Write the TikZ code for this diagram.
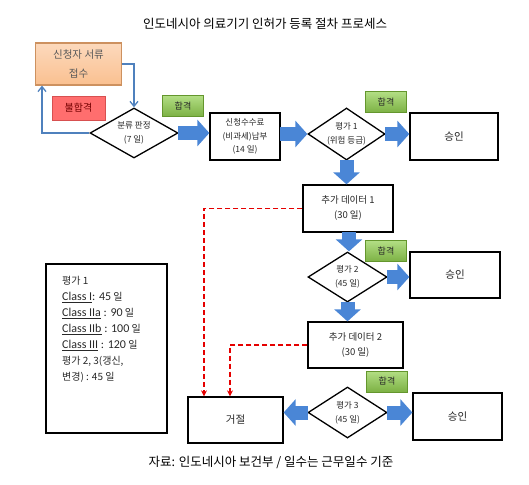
\documentclass[tikz,border=0pt]{standalone}
\usepackage{fontspec}
\setmainfont{Noto Sans CJK KR}
\newfontfamily\calib{Carlito}
\usetikzlibrary{shapes.geometric,arrows.meta}
\definecolor{bluearr}{RGB}{74,134,214}
\definecolor{loopblue}{RGB}{79,129,189}
\definecolor{peach}{RGB}{250,192,144}
\definecolor{peachline}{RGB}{205,145,95}
\definecolor{passgreen}{RGB}{146,208,80}
\definecolor{passline}{RGB}{100,150,45}
\definecolor{failred}{RGB}{255,110,110}
\definecolor{failline}{RGB}{215,80,80}
\definecolor{txt}{RGB}{40,40,40}
\tikzset{
  flowbox/.style={draw=black, line width=1.3pt, fill=white, align=center, inner sep=0pt, text=txt},
  decide/.style={diamond, draw=black, line width=1.3pt, fill=white, inner sep=0pt},
  dtext/.style={align=center, inner sep=0pt, text=txt, font=\fontsize{8.5}{14}\selectfont},
  passbox/.style={draw=passline, line width=0.8pt, top color=passgreen!70!white, bottom color=passgreen!85!black, minimum width=41pt, minimum height=21pt, inner sep=0pt, text=txt, font=\fontsize{9}{10}\selectfont},
  blockarrow/.style={draw=bluearr, line width=14pt, -{Triangle[length=12pt,width=26pt]}, shorten <=-0.5pt},
  loopline/.style={draw=loopblue, line width=1.3pt, -{Straight Barb[length=5pt,width=8pt]}},
  rejectline/.style={draw=red!90!black, line width=1.3pt, dash pattern=on 5pt off 3pt, -{Stealth[length=6pt,width=6pt]}},
  bigtxt/.style={font=\fontsize{10.5}{12}\selectfont},
  datatxt/.style={font=\fontsize{9.5}{15}\selectfont},
}
\begin{document}
\begin{tikzpicture}[x=1pt,y=-1pt]
\useasboundingbox (0,0) rectangle (529,484);
% title
\node[font=\fontsize{12.5}{14}\selectfont, text=black] (title) at (265,24) {인도네시아 의료기기 인허가 등록 절차 프로세스};
% first row
\node[draw=peachline, line width=1.2pt, top color=peach!60!white, bottom color=peach, minimum width=86pt, minimum height=42pt, inner sep=0pt, align=center, text=black!65, font=\fontsize{10.5}{19}\selectfont] (apply) at (78.5,64) {신청자 서류\\접수};
\node[draw=failline, line width=0.8pt, fill=failred, minimum width=53pt, minimum height=24pt, inner sep=0pt, text=red!45!black, font=\fontsize{10}{11}\selectfont] (fail) at (78.5,108) {불합격};
\node[decide, minimum width=88pt, minimum height=50pt] (d0) at (134,133) {};
\node[dtext] (d0t) at (d0) {분류 판정\\(7 일)};
\node[passbox] (pass0) at (183,106) {합격};
\node[flowbox, minimum width=70pt, minimum height=47pt, font=\fontsize{8.5}{13.5}\selectfont] (fee) at (245,136.5) {신청수수료\\(비과세)납부\\(14 일)};
\node[decide, minimum width=77pt, minimum height=52pt] (d1) at (346.5,134) {};
\node[dtext] (d1t) at (d1) {평가 1\\(위험 등급)};
\node[passbox] (pass1) at (386,102) {합격};
\node[flowbox, minimum width=88pt, minimum height=47pt, bigtxt] (app1) at (454,136.5) {승인};
% second part
\node[flowbox, minimum width=90pt, minimum height=47pt, datatxt] (data1) at (348,208.5) {추가 데이터 1\\(30 일)};
\node[decide, minimum width=79pt, minimum height=50pt] (d2) at (347.5,277) {};
\node[dtext] (d2t) at (d2) {평가 2\\(45 일)};
\node[passbox] (pass2) at (386,251) {합격};
\node[flowbox, minimum width=90pt, minimum height=46pt, bigtxt] (app2) at (455,275) {승인};
\node[flowbox, minimum width=95pt, minimum height=46pt, datatxt] (data2) at (355.5,345) {추가 데이터 2\\(30 일)};
\node[decide, minimum width=79pt, minimum height=51pt] (d3) at (347.5,412.5) {};
\node[dtext] (d3t) at (d3) {평가 3\\(45 일)};
\node[passbox] (pass3) at (387,381.5) {합격};
\node[flowbox, minimum width=95pt, minimum height=46pt, bigtxt] (rej) at (235.5,420) {거절};
\node[flowbox, minimum width=89pt, minimum height=47pt, bigtxt] (app3) at (457.5,416.5) {승인};
% legend
\node[draw=black, line width=1.3pt, minimum width=121pt, minimum height=169pt, inner sep=0pt] (legend) at (106.5,348.5) {};
\node[anchor=north west, align=left, inner sep=0pt, text=txt, font=\fontsize{10}{16}\selectfont] (legtext) at (62,276) {%
평가 1\\
{\calib\fontsize{12}{16}\selectfont\underline{Class I}: 45} 일\\
{\calib\fontsize{12}{16}\selectfont\underline{Class IIa} : 90} 일\\
{\calib\fontsize{12}{16}\selectfont\underline{Class IIb} : 100} 일\\
{\calib\fontsize{12}{16}\selectfont\underline{Class III} : 120} 일\\
평가 2, 3(갱신,\\
변경) : 45 일};
% caption
\node[font=\fontsize{12.5}{14}\selectfont, text=black] (caption) at (271,462) {자료: 인도네시아 보건부 / 일수는 근무일수 기준};
% loop lines
\draw[loopline] (apply.east) -| (d0.north);
\draw[loopline] (d0.west) -| ([xshift=-36.5pt]apply.south);
% block arrows
\draw[blockarrow] (d0.east) -- (d0.east -| fee.west);
\draw[blockarrow] (fee.east |- d1.west) -- (d1.west);
\draw[blockarrow] (d1.east) -- (d1.east -| app1.west);
\draw[blockarrow] (d1.south) -- (d1.south |- data1.north);
\draw[blockarrow] ([xshift=1pt]data1.south) -- ([xshift=1pt]data1.south |- d2.north);
\draw[blockarrow] (d2.east) -- (d2.east -| app2.west);
\draw[blockarrow] (d2.south) -- (d2.south |- data2.north);
\draw[blockarrow] (d3.east) -- (d3.east -| app3.west);
\draw[blockarrow] (d3.west) -- (d3.west -| rej.east);
% reject lines
\draw[rejectline] (data1.west) -| ([xshift=-31.5pt]rej.north);
\draw[rejectline] (data2.west) -| ([xshift=-5.5pt]rej.north);
\end{tikzpicture}
\end{document}
